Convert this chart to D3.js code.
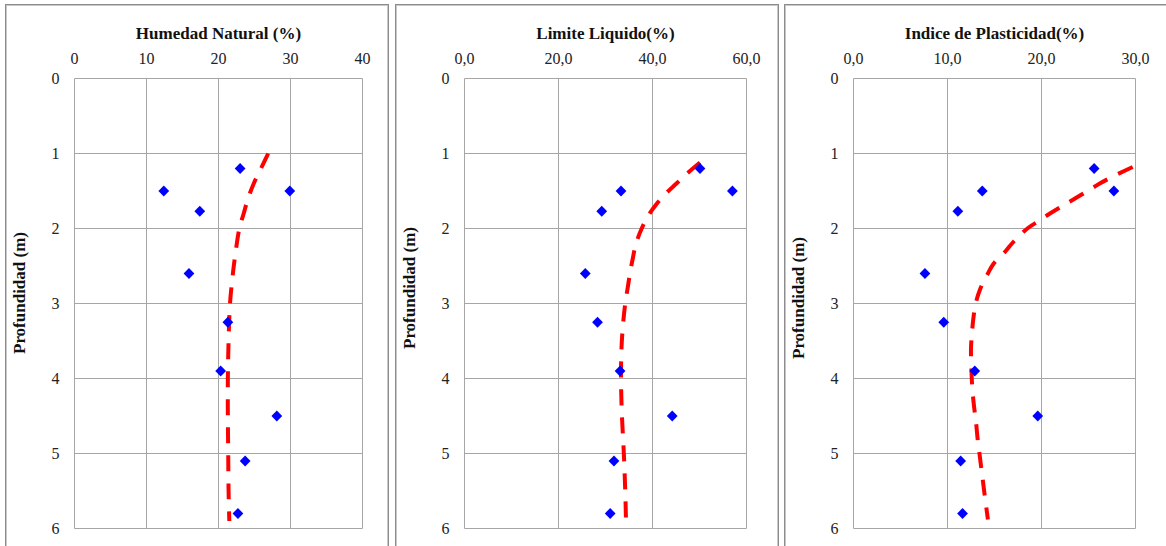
<!DOCTYPE html>
<html>
<head>
<meta charset="utf-8">
<script src="https://cdn.jsdelivr.net/npm/d3@7"></script>
<style>
  html, body { margin: 0; padding: 0; background: #fff; }
  svg { display: block; }
</style>
</head>
<body>
<svg id="chart" width="1166" height="546"></svg>
<script>
// ---------------- DATA ----------------
const depthTicks = [0, 1, 2, 3, 4, 5, 6];
const sampleDepths = [1.2, 1.5, 1.5, 1.77, 2.6, 3.25, 3.9, 4.5, 5.1, 5.8];

// Humedad Natural (%)
const humedadTicks = [0, 10, 20, 30, 40];
const humedadTickLabels = ["0", "10", "20", "30", "40"];
const humedadValues = [23.0, 12.4, 29.9, 17.4, 15.9, 21.3, 20.3, 28.1, 23.7, 22.7];
const humedadTrendDepths = [1.0, 1.2, 1.4, 1.6, 1.8, 2.0, 2.3, 2.6, 3.0, 3.5, 4.0, 4.5, 5.0, 5.5, 5.9];
const humedadTrendValues = [26.9, 25.9, 24.9, 24.1, 23.5, 22.9, 22.4, 22.0, 21.6, 21.4, 21.3, 21.3, 21.35, 21.4, 21.5];

// Limite Liquido (%)
const liquidoTicks = [0, 20, 40, 60];
const liquidoTickLabels = ["0,0", "20,0", "40,0", "60,0"];
const liquidoValues = [50.1, 33.3, 57.0, 29.2, 25.7, 28.3, 33.1, 44.2, 31.8, 31.0];
const liquidoTrendDepths = [1.12, 1.27, 1.4, 1.53, 1.67, 1.85, 2.0, 2.2, 2.4, 2.6, 2.8, 3.0, 3.3, 3.6, 4.0, 4.5, 5.0, 5.5, 6.0];
const liquidoTrendValues = [50.1, 47.3, 45.1, 42.9, 40.9, 38.9, 37.7, 36.5, 35.8, 35.2, 34.7, 34.2, 33.7, 33.4, 33.3, 33.5, 33.9, 34.2, 34.4];

// Indice de Plasticidad (%)
const plastTicks = [0, 10, 20, 30];
const plastTickLabels = ["0,0", "10,0", "20,0", "30,0"];
const plastValues = [25.6, 13.7, 27.7, 11.1, 7.6, 9.6, 12.9, 19.6, 11.4, 11.6];
const plastTrendDepths = [1.18, 1.3, 1.4, 1.5, 1.62, 1.7, 1.8, 1.9, 2.0, 2.18, 2.3, 2.47, 2.6, 2.8, 3.0, 3.2, 3.4, 3.6, 3.9, 4.15, 4.4, 4.6, 4.8, 5.0, 5.2, 5.4, 5.6, 5.88];
const plastTrendValues = [29.7, 27.7, 26.2, 24.9, 23.3, 22.2, 20.9, 19.7, 18.5, 17.0, 16.2, 14.9, 14.3, 13.5, 13.0, 12.75, 12.6, 12.5, 12.55, 12.65, 12.85, 13.05, 13.2, 13.4, 13.6, 13.8, 14.0, 14.3];

const titles = ["Humedad Natural (%)", "Limite Liquido(%)", "Indice de Plasticidad(%)"];
const yTitle = "Profundidad (m)";

// ---------------- LAYOUT ----------------
const panels = [
  { title: titles[0], ticks: humedadTicks, labels: humedadTickLabels, values: humedadValues,
    tD: humedadTrendDepths, tV: humedadTrendValues,
    frame: [5.5, 388.5], plot: [74.5, 362.5], yTitleY: 293 },
  { title: titles[1], ticks: liquidoTicks, labels: liquidoTickLabels, values: liquidoValues,
    tD: liquidoTrendDepths, tV: liquidoTrendValues,
    frame: [395.5, 778.5], plot: [464.5, 746.5], yTitleY: 288 },
  { title: titles[2], ticks: plastTicks, labels: plastTickLabels, values: plastValues,
    tD: plastTrendDepths, tV: plastTrendValues,
    frame: [784.5, 1180], plot: [853.5, 1135.5], yTitleY: 298 }
];

const plotTop = 78.5, plotBottom = 528.5;
const gridColor = "#a6a6a6";
const serif = "'Liberation Serif', 'Times New Roman', serif";

const svg = d3.select("#chart");
const y = d3.scaleLinear().domain([0, 6]).range([plotTop, plotBottom]);

panels.forEach(p => {
  const g = svg.append("g");
  const x = d3.scaleLinear()
    .domain([p.ticks[0], p.ticks[p.ticks.length - 1]])
    .range(p.plot);

  // frame (double gray line)
  g.append("rect")
    .attr("x", p.frame[0]).attr("y", 4.5)
    .attr("width", p.frame[1] - p.frame[0]).attr("height", 600)
    .attr("fill", "none").attr("stroke", "#8c8c8c").attr("stroke-width", 1);
  g.append("rect")
    .attr("x", p.frame[0] + 1).attr("y", 5.5)
    .attr("width", p.frame[1] - p.frame[0] - 2).attr("height", 600)
    .attr("fill", "none").attr("stroke", "#c8c8c8").attr("stroke-width", 1);

  // vertical grid lines
  g.append("g").selectAll("line").data(p.ticks).join("line")
    .attr("x1", d => x(d)).attr("x2", d => x(d))
    .attr("y1", plotTop).attr("y2", plotBottom)
    .attr("stroke", gridColor).attr("stroke-width", 1);
  // horizontal grid lines
  g.append("g").selectAll("line").data(depthTicks).join("line")
    .attr("x1", p.plot[0]).attr("x2", p.plot[1])
    .attr("y1", d => y(d)).attr("y2", d => y(d))
    .attr("stroke", gridColor).attr("stroke-width", 1);

  // x tick labels (top)
  g.append("g").selectAll("text").data(p.ticks).join("text")
    .attr("x", d => x(d)).attr("y", 63.5)
    .attr("text-anchor", "middle")
    .attr("font-family", serif).attr("font-size", 16).attr("fill", "#222")
    .text((d, i) => p.labels[i]);

  // y tick labels
  g.append("g").selectAll("text").data(depthTicks).join("text")
    .attr("x", p.plot[0] - 15).attr("y", d => y(d) + 5.5)
    .attr("text-anchor", "end")
    .attr("font-family", serif).attr("font-size", 16).attr("fill", "#222")
    .text(d => d);

  // title
  g.append("text")
    .attr("x", (p.plot[0] + p.plot[1]) / 2).attr("y", 39)
    .attr("text-anchor", "middle")
    .attr("font-family", serif).attr("font-weight", "bold").attr("font-size", 17)
    .attr("fill", "#111")
    .text(p.title);

  // y axis title
  g.append("text")
    .attr("transform", `translate(${p.plot[0] - 55},${p.yTitleY}) rotate(-90)`)
    .attr("text-anchor", "middle").attr("dominant-baseline", "central")
    .attr("font-family", serif).attr("font-weight", "bold").attr("font-size", 17)
    .attr("fill", "#111")
    .text(yTitle);

  // trend line (dashed red)
  const trend = p.tD.map((d, i) => [p.tV[i], d]);
  const line = d3.line()
    .x(d => x(d[0])).y(d => y(d[1]))
    .curve(d3.curveCatmullRom.alpha(0.5));
  g.append("path")
    .datum(trend)
    .attr("d", line)
    .attr("fill", "none").attr("stroke", "#ff0000")
    .attr("stroke-width", 4).attr("stroke-dasharray", "16,12");

  // data points (blue diamonds)
  const diamond = d3.symbol().type(d3.symbolSquare).size(58);
  g.append("g").selectAll("path").data(p.values).join("path")
    .attr("d", diamond)
    .attr("transform", (d, i) => `translate(${x(d)},${y(sampleDepths[i])}) rotate(45)`)
    .attr("fill", "#0000ff");
});
</script>
</body>
</html>
